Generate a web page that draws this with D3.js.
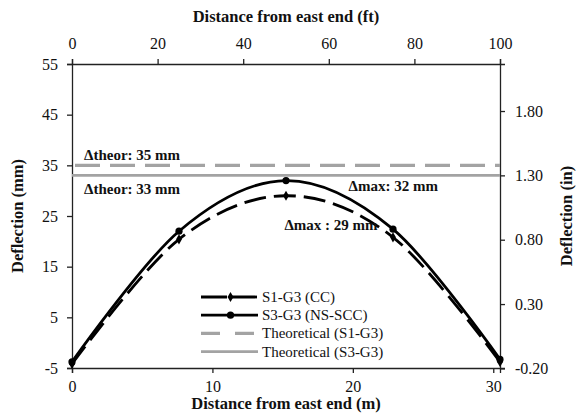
<!DOCTYPE html>
<html>
<head>
<meta charset="utf-8">
<script src="https://cdn.jsdelivr.net/npm/d3@7"></script>
<style>
  html, body { margin: 0; padding: 0; background: #fff; }
  svg { display: block; font-family: "Liberation Serif", "Times New Roman", serif; }
</style>
</head>
<body>
<svg id="chart" width="579" height="414"></svg>
<script>
// Gauge positions along the girder (m) — quarter points of a 100 ft span
const positionsM = [0, 7.62, 15.24, 22.86, 30.48];
// Measured deflections (mm)
const s1g3 = [-4.2, 20.4, 29.0, 20.8, -3.8];   // S1-G3 (CC)
const s3g3 = [-3.8, 22.0, 32.0, 22.4, -3.3];   // S3-G3 (NS-SCC)
// Theoretical mid-span deflections (mm)
const theorS1 = 35;
const theorS3 = 33;
// Axis ticks
const ticksM = [0, 10, 20, 30];
const ticksFt = [0, 20, 40, 60, 80, 100];
const ticksMm = [-5, 5, 15, 25, 35, 45, 55];
const ticksIn = [-0.20, 0.30, 0.80, 1.30, 1.80];
const legendLabels = ["S1-G3 (CC)", "S3-G3 (NS-SCC)", "Theoretical (S1-G3)", "Theoretical (S3-G3)"];

const svg = d3.select("#chart");
const m = { left: 72, right: 500, top: 64, bottom: 368 };

const x = d3.scaleLinear().domain([0, 30.48]).range([m.left, m.right]);
const xFt = d3.scaleLinear().domain([0, 100]).range([m.left, m.right]);
const y = d3.scaleLinear().domain([-5, 55]).range([m.bottom, m.top]);
const yIn = d3.scaleLinear().domain([-5 / 25.4, 55 / 25.4]).range([m.bottom, m.top]);

// plain hyphen for negatives, as in the printed figure
const hy = f => v => f(v).replace("\u2212", "-");
const fmtInt = hy(d3.format("d"));
const fmt2 = hy(d3.format(".2f"));

const tickFont = "16px";
function styleAxis(g) {
  g.attr("font-family", null);
  g.selectAll("path.domain").attr("stroke", "#222").attr("stroke-width", 1.3);
  g.selectAll(".tick line").attr("stroke", "#222").attr("stroke-width", 1.3);
  g.selectAll(".tick text").attr("fill", "#111").style("font-size", tickFont)
    .style("font-family", "'Liberation Serif', serif");
}

// Axes on all four sides
svg.append("g").attr("transform", `translate(0,${m.bottom})`)
  .call(d3.axisBottom(x).tickValues(ticksM).tickFormat(fmtInt).tickSizeOuter(0).tickSize(5).tickPadding(8))
  .call(styleAxis);
svg.append("g").attr("transform", `translate(0,${m.top})`)
  .call(d3.axisTop(xFt).tickValues(ticksFt).tickFormat(fmtInt).tickSizeOuter(0).tickSize(5).tickPadding(10))
  .call(styleAxis);
svg.append("g").attr("transform", `translate(${m.left},0)`)
  .call(d3.axisLeft(y).tickValues(ticksMm).tickFormat(fmtInt).tickSizeOuter(0).tickSize(5).tickPadding(9))
  .call(styleAxis);
svg.append("g").attr("transform", `translate(${m.right},0)`)
  .call(d3.axisRight(yIn).tickValues(ticksIn).tickFormat(fmt2).tickSizeOuter(0).tickSize(5).tickPadding(10))
  .call(styleAxis);

// Axis titles
const titleStyle = s => s.attr("font-weight", "bold").attr("fill", "#111").style("font-size", "16.5px");
svg.append("text").attr("x", (m.left + m.right) / 2).attr("y", 22).attr("text-anchor", "middle")
  .text("Distance from east end (ft)").call(titleStyle);
svg.append("text").attr("x", (m.left + m.right) / 2).attr("y", 409).attr("text-anchor", "middle")
  .text("Distance from east end (m)").call(titleStyle);
svg.append("text").attr("transform", `translate(23,${(m.top + m.bottom) / 2}) rotate(-90)`)
  .attr("text-anchor", "middle").text("Deflection (mm)").call(titleStyle);
svg.append("text").attr("transform", `translate(572,${(m.top + m.bottom) / 2}) rotate(-90)`)
  .attr("text-anchor", "middle").text("Deflection (in)").call(titleStyle);

const grey = "#a3a3a3";
// Theoretical deflection levels
svg.append("line").attr("x1", x(0)).attr("x2", x(30.48)).attr("y1", y(theorS1)).attr("y2", y(theorS1))
  .attr("stroke", grey).attr("stroke-width", 3.2).attr("stroke-dasharray", "25,10").attr("stroke-dashoffset", -3);
svg.append("line").attr("x1", x(0)).attr("x2", x(30.48)).attr("y1", y(theorS3)).attr("y2", y(theorS3))
  .attr("stroke", grey).attr("stroke-width", 2.8);

// Measured deflection profiles
const line = d3.line().x((d, i) => x(positionsM[i])).y(d => y(d)).curve(d3.curveCardinal.tension(0));
svg.append("path").datum(s1g3).attr("d", line).attr("fill", "none")
  .attr("stroke", "#000").attr("stroke-width", 2.8).attr("stroke-dasharray", "22,8");
svg.append("path").datum(s3g3).attr("d", line).attr("fill", "none")
  .attr("stroke", "#000").attr("stroke-width", 2.8);

const diamond = d3.symbol().type(d3.symbolDiamond).size(30);
svg.append("g").selectAll("path").data(s1g3).join("path")
  .attr("d", diamond).attr("transform", (d, i) => `translate(${x(positionsM[i])},${y(d)})`).attr("fill", "#000");
svg.append("g").selectAll("circle").data(s3g3).join("circle")
  .attr("cx", (d, i) => x(positionsM[i])).attr("cy", d => y(d)).attr("r", 3.6).attr("fill", "#000");

// Value annotations
const noteStyle = s => s.attr("font-weight", "bold").attr("fill", "#111").style("font-size", "15px");
svg.append("text").attr("x", 84).attr("y", 160).text(`\u0394theor: ${theorS1} mm`).call(noteStyle);
svg.append("text").attr("x", 84).attr("y", 194).text(`\u0394theor: ${theorS3} mm`).call(noteStyle);
svg.append("text").attr("x", 438).attr("y", 191).attr("text-anchor", "end")
  .text(`\u0394max: ${d3.max(s3g3)} mm`).call(noteStyle);
svg.append("text").attr("x", 331).attr("y", 230).attr("text-anchor", "middle")
  .text(`\u0394max : ${d3.max(s1g3)} mm`).call(noteStyle);

// Legend
const lg = svg.append("g");
const lx0 = 201, lx1 = 258, ltx = 262, ly0 = 297, ldy = 18.2;
const rows = lg.selectAll("g").data(legendLabels).join("g")
  .attr("transform", (d, i) => `translate(0,${ly0 + i * ldy})`);
rows.append("text").attr("x", ltx).attr("y", 5).text(d => d)
  .attr("fill", "#111").style("font-size", "15px");
rows.each(function (d, i) {
  const g = d3.select(this);
  const ln = g.insert("line", "text").attr("x1", lx0).attr("x2", lx1).attr("y1", 0).attr("y2", 0);
  if (i === 0) {
    ln.attr("stroke", "#000").attr("stroke-width", 2.8).attr("stroke-dasharray", "26,4");
    g.append("path").attr("d", diamond).attr("transform", `translate(${(lx0 + lx1) / 2 + 1},0)`).attr("fill", "#000");
  } else if (i === 1) {
    ln.attr("stroke", "#000").attr("stroke-width", 2.8);
    g.append("circle").attr("cx", (lx0 + lx1) / 2 + 1).attr("cy", 0).attr("r", 3.6).attr("fill", "#000");
  } else if (i === 2) {
    ln.attr("stroke", grey).attr("stroke-width", 3.2).attr("stroke-dasharray", "19,15");
  } else {
    ln.attr("stroke", grey).attr("stroke-width", 2.8);
  }
});
</script>
</body>
</html>
